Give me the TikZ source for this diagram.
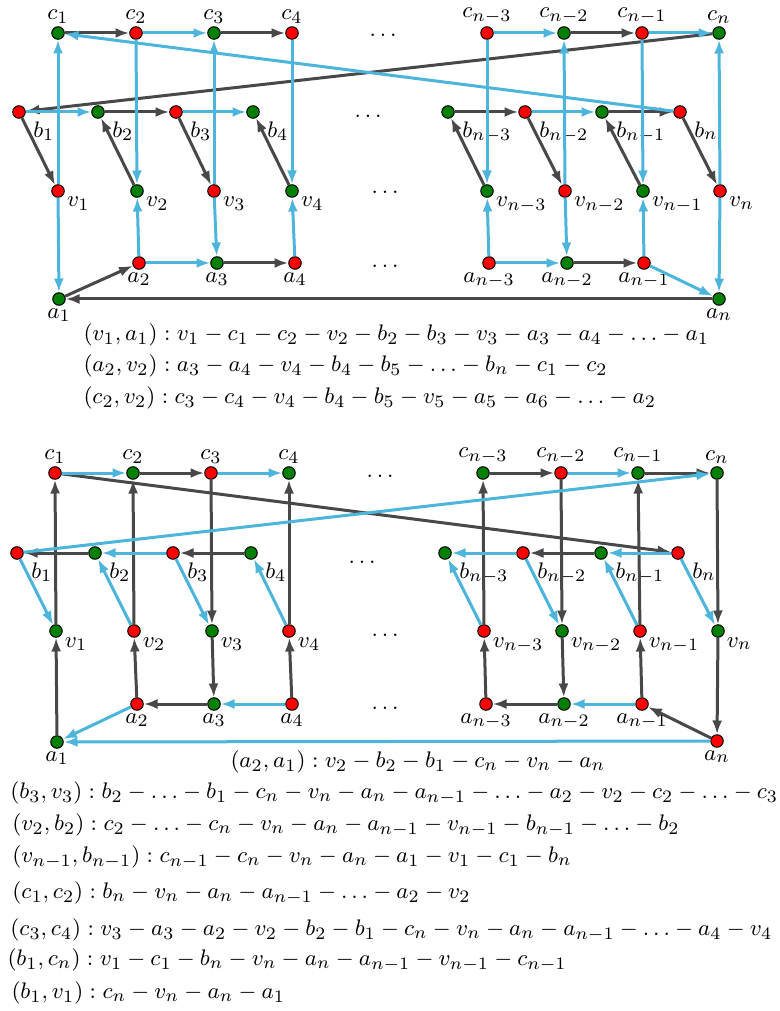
\documentclass[tikz,border=0pt]{standalone}
\usepackage{amsmath,amssymb}
\usepackage{xcolor}
\usepackage{tikz}
\usetikzlibrary{arrows.meta}

\definecolor{gn}{RGB}{0,128,0}
\definecolor{rd}{RGB}{255,0,0}
\definecolor{lb}{RGB}{77,180,220}
\definecolor{dk}{RGB}{72,72,72}

\begin{document}
\begin{tikzpicture}[
    x=0.4pt, y=-0.4pt,
    font=\fontsize{9.5}{11}\selectfont,
    vtx/.style={circle, draw=black, line width=0.4pt, inner sep=0pt, minimum size=5pt},
    lab/.style={inner sep=1pt, label distance=0pt},
    blab/.style={inner sep=1pt, label distance=2.5pt},
    bluearc/.style={draw, -{Latex[length=5.5pt,width=4pt]}, line width=1.2pt, color=lb},
    darkarc/.style={draw, -{Latex[length=5.5pt,width=4pt]}, line width=1.2pt, color=dk},
    walk/.style={anchor=west, inner sep=0pt}
]
    \useasboundingbox (0,0) rectangle (779,1011);

    % upper graph
    \foreach \x/\n/\s/\f in {58/1/1/gn,136/2/2/rd,214/3/3/gn,292/4/4/rd,487/n3/n-3/rd,564/n2/n-2/gn,642/n1/n-1/rd,719/n/n/gn}
        \node [vtx, fill=\f, label={[lab]above:$c_{\s}$}] (T-c\n) at (\x,33) {};
    \foreach \x/\n/\s/\f in {19/1/1/rd,98/2/2/gn,176/3/3/rd,253/4/4/gn,448/n3/n-3/gn,525/n2/n-2/rd,602/n1/n-1/gn,680/n/n/rd}
        \node [vtx, fill=\f, label={[blab]-30:$b_{\s}$}] (T-b\n) at (\x,112) {};
    \foreach \x/\n/\s/\f in {58/1/1/rd,137/2/2/gn,214/3/3/rd,292/4/4/gn,487/n3/n-3/gn,565/n2/n-2/rd,643/n1/n-1/gn,720/n/n/rd}
        \node [vtx, fill=\f, label={[lab]-25:$v_{\s}$}] (T-v\n) at (\x,191) {};
    \foreach \x/\y/\n/\s/\f in {59/299/1/1/gn,139/263/2/2/rd,217/263/3/3/gn,295/263/4/4/rd,489/263/n3/n-3/rd,567/263/n2/n-2/gn,644/263/n1/n-1/rd,719/299/n/n/gn}
        \node [vtx, fill=\f, label={[lab]below:$a_{\s}$}] (T-a\n) at (\x,\y) {};
    \node (T-dc) at (383,35) {$\ldots$};
    \node (T-db) at (368,116) {$\ldots$};
    \node (T-dv) at (385,192) {$\ldots$};
    \node (T-da) at (385,266) {$\ldots$};

    \foreach \s/\t in {c1/c2,c3/c4,cn2/cn1,cn/b1,b2/b3,bn3/bn2,bn1/bn,b1/v1,v2/b2,b3/v3,v4/b4,vn3/bn3,bn2/vn2,vn1/bn1,bn/vn,a1/a2,a3/a4,an2/an1,an/a1}
        \path [darkarc] (T-\s) -- (T-\t);
    \foreach \s/\t in {c2/c3,cn3/cn2,cn1/cn,bn/c1,b1/b2,b3/b4,bn2/bn1,v1/c1,v1/a1,c2/v2,a2/v2,v3/c3,v3/a3,c4/v4,a4/v4,cn3/vn3,an3/vn3,vn2/cn2,vn2/an2,cn1/vn1,an1/vn1,vn/cn,vn/an,a2/a3,an3/an2,an1/an}
        \path [bluearc] (T-\s) -- (T-\t);

    \node [walk] (walk1) at (83,335) {$(v_1,a_1):v_1-c_1-c_2-v_2-b_2-b_3-v_3-a_3-a_4-\ldots-a_1$};
    \node [walk] (walk2) at (83,366) {$(a_2,v_2):a_3-a_4-v_4-b_4-b_5-\ldots-b_n-c_1-c_2$};
    \node [walk] (walk3) at (83,398) {$(c_2,v_2):c_3-c_4-v_4-b_4-b_5-v_5-a_5-a_6-\ldots-a_2$};

    % lower graph
    \foreach \x/\n/\s/\f in {55/1/1/rd,133/2/2/gn,211/3/3/rd,289/4/4/gn,483/n3/n-3/gn,561/n2/n-2/rd,638/n1/n-1/gn,717/n/n/gn}
        \node [vtx, fill=\f, label={[lab]above:$c_{\s}$}] (B-c\n) at (\x,473) {};
    \foreach \x/\n/\s/\f in {17/1/1/rd,95/2/2/gn,173/3/3/rd,251/4/4/gn,445/n3/n-3/gn,523/n2/n-2/rd,601/n1/n-1/gn,678/n/n/rd}
        \node [vtx, fill=\f, label={[blab]-30:$b_{\s}$}] (B-b\n) at (\x,553) {};
    \foreach \x/\n/\s/\f in {56/1/1/gn,134/2/2/rd,212/3/3/gn,289/4/4/rd,484/n3/n-3/rd,562/n2/n-2/gn,640/n1/n-1/rd,718/n/n/gn}
        \node [vtx, fill=\f, label={[lab]-30:$v_{\s}$}] (B-v\n) at (\x,631) {};
    \foreach \x/\y/\n/\s/\f in {57/742/1/1/gn,137/704/2/2/rd,214/704/3/3/gn,292/704/4/4/rd,486/704/n3/n-3/rd,564/704/n2/n-2/gn,642/704/n1/n-1/rd,717/741/n/n/rd}
        \node [vtx, fill=\f, label={[lab]below:$a_{\s}$}] (B-a\n) at (\x,\y) {};
    \node (B-dc) at (380,476) {$\ldots$};
    \node (B-db) at (362,562) {$\ldots$};
    \node (B-dv) at (385,635) {$\ldots$};
    \node (B-da) at (385,708) {$\ldots$};

    \foreach \s/\t in {c2/c3,cn3/cn2,cn1/cn,c1/bn,b2/b1,b4/b3,bn1/bn2,a1/v1,v1/c1,a2/v2,v2/c2,c3/v3,v3/a3,a4/v4,v4/c4,an3/vn3,vn3/cn3,cn2/vn2,vn2/an2,an1/vn1,vn1/cn1,cn/vn,vn/an,a3/a2,an2/an3,an/an1}
        \path [darkarc] (B-\s) -- (B-\t);
    \foreach \s/\t in {c1/c2,c3/c4,cn2/cn1,b1/cn,b3/b2,bn2/bn3,bn/bn1,b1/v1,v2/b2,b3/v3,v4/b4,vn3/bn3,bn2/vn2,vn1/bn1,bn/vn,a4/a3,an1/an2,a2/a1,an/a1}
        \path [bluearc] (B-\s) -- (B-\t);

    \node [walk] (walk4) at (230,762) {$(a_2,a_1):v_2-b_2-b_1-c_n-v_n-a_n$};
    \node [walk] (walk5) at (10,793) {$(b_3,v_3):b_2-\ldots-b_1-c_n-v_n-a_n-a_{n-1}-\ldots-a_2-v_2-c_2-\ldots-c_3$};
    \node [walk] (walk6) at (12,825) {$(v_2,b_2):c_2-\ldots-c_n-v_n-a_n-a_{n-1}-v_{n-1}-b_{n-1}-\ldots-b_2$};
    \node [walk] (walk7) at (12,857) {$(v_{n-1},b_{n-1}):c_{n-1}-c_n-v_n-a_n-a_1-v_1-c_1-b_n$};
    \node [walk] (walk8) at (12,893) {$(c_1,c_2):b_n-v_n-a_n-a_{n-1}-\ldots-a_2-v_2$};
    \node [walk] (walk9) at (10,930) {$(c_3,c_4):v_3-a_3-a_2-v_2-b_2-b_1-c_n-v_n-a_n-a_{n-1}-\ldots-a_4-v_4$};
    \node [walk] (walk10) at (7,960) {$(b_1,c_n):v_1-c_1-b_n-v_n-a_n-a_{n-1}-v_{n-1}-c_{n-1}$};
    \node [walk] (walk11) at (11,993) {$(b_1,v_1):c_n-v_n-a_n-a_1$};
\end{tikzpicture}
\end{document}
